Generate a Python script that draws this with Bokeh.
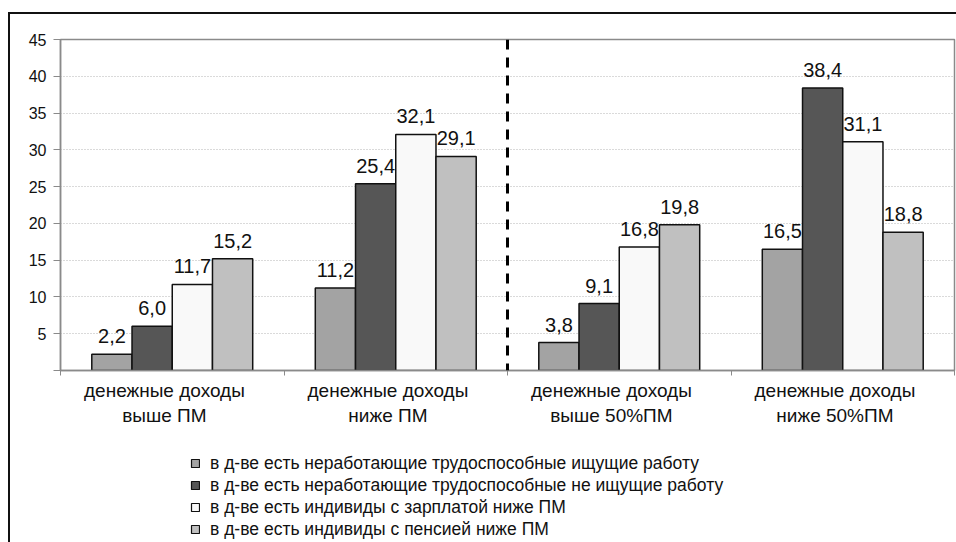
from bokeh.plotting import figure
from bokeh.layouts import column
from bokeh.models import ColumnDataSource, FixedTicker, Span, Legend, LegendItem
from bokeh.core.properties import value
from bokeh.embed import file_html
from bokeh.resources import INLINE

# Income groups (x axis categories)
categories = [
    "денежные доходы\nвыше ПМ",
    "денежные доходы\nниже ПМ",
    "денежные доходы\nвыше 50%ПМ",
    "денежные доходы\nниже 50%ПМ",
]

# Household types (series)
series_names = [
    "в д-ве есть неработающие трудоспособные ищущие работу",
    "в д-ве есть неработающие трудоспособные не ищущие работу",
    "в д-ве есть индивиды с зарплатой ниже ПМ",
    "в д-ве есть индивиды с пенсией ниже ПМ",
]

seeking_work = [2.2, 11.2, 3.8, 16.5]
not_seeking_work = [6.0, 25.4, 9.1, 38.4]
wage_below_pm = [11.7, 32.1, 16.8, 31.1]
pension_below_pm = [15.2, 29.1, 19.8, 18.8]

series_values = [seeking_work, not_seeking_work, wage_below_pm, pension_below_pm]
series_colors = ["#A3A3A3", "#565656", "#F9F9F9", "#C0C0C0"]

y_ticks = [0, 5, 10, 15, 20, 25, 30, 35, 40, 45]

FONT = "Liberation Sans"
BAR_W = 0.18
offsets = [-1.5 * BAR_W, -0.5 * BAR_W, 0.5 * BAR_W, 1.5 * BAR_W]
centers = [i + 0.5 for i in range(len(categories))]
# category captions sit slightly left of the group centre
label_pos = [c - 0.035 for c in centers]

p = figure(width=946, height=426, x_range=(0, 4), y_range=(0, 45),
           output_backend="svg", toolbar_location=None,
           min_border_left=50, min_border_right=2, min_border_top=25,
           min_border_bottom=70)

p.background_fill_color = "white"
p.border_fill_color = "white"
p.outline_line_color = "#8a8a8a"
p.outline_line_width = 1.5

# grid
p.xgrid.grid_line_color = None
p.ygrid.grid_line_color = "#b5b5b5"
p.ygrid.grid_line_dash = "1 2"
p.ygrid.grid_line_width = 1

# y axis
p.yaxis.ticker = FixedTicker(ticks=y_ticks)
p.yaxis.major_label_overrides = {0: ""}
p.yaxis.axis_line_color = "#8a8a8a"
p.yaxis.axis_line_width = 1.5
p.yaxis.major_tick_line_color = "#8a8a8a"
p.yaxis.major_tick_out = 7
p.yaxis.major_tick_in = 0
p.yaxis.minor_tick_line_color = None
p.yaxis.major_label_text_font = FONT
p.yaxis.major_label_text_font_size = "16px"
p.yaxis.major_label_text_color = "#111111"
p.yaxis.major_label_standoff = 7

# x axis: captions under each group, small ticks at group boundaries
p.xaxis.ticker = FixedTicker(ticks=label_pos, minor_ticks=[0, 1, 2, 3, 4])
p.xaxis.major_label_overrides = {c: lab for c, lab in zip(label_pos, categories)}
p.xaxis.axis_line_color = "#8a8a8a"
p.xaxis.axis_line_width = 1.5
p.xaxis.major_tick_line_color = None
p.xaxis.minor_tick_line_color = "#8a8a8a"
p.xaxis.minor_tick_out = 5
p.xaxis.minor_tick_in = 0
p.xaxis.major_label_text_font = FONT
p.xaxis.major_label_text_font_size = "19px"
p.xaxis.major_label_text_color = "#111111"
p.xaxis.major_label_text_line_height = 1.2
p.xaxis.major_label_standoff = 3

# value labels first, so neighbouring bars may cover them
for vals, off in zip(series_values, offsets):
    src = ColumnDataSource(dict(
        x=[c + off for c in centers],
        y=vals,
        t=[f"{v:.1f}".replace(".", ",") for v in vals],
    ))
    p.text(x="x", y="y", text="t", source=src, text_align="center",
           text_baseline="bottom", y_offset=-11, text_font=value(FONT),
           text_font_size="20px", text_color="#111111")

for vals, off, col in zip(series_values, offsets, series_colors):
    src = ColumnDataSource(dict(x=[c + off for c in centers], top=vals))
    p.vbar(x="x", top="top", width=BAR_W, bottom=0, source=src,
           fill_color=col, line_color="#111111", line_width=1.5)

# divider between the two pairs of groups
p.add_layout(Span(location=2, dimension="height", line_color="black",
                  line_width=3, line_dash="10 8"))

# legend strip under the chart; its swatch renderers sit outside the view
leg = figure(width=946, height=102, x_range=(0, 1), y_range=(0, 1),
             output_backend="svg", toolbar_location=None,
             x_axis_location=None, y_axis_location=None,
             min_border_left=0, min_border_right=0, min_border_top=0,
             min_border_bottom=0)
leg.outline_line_color = None
leg.grid.grid_line_color = None
leg.background_fill_color = "white"
leg.border_fill_color = "white"

swatches = []
for col in series_colors:
    swatches.append(leg.rect(x=[-5], y=[-5], width=0.1, height=0.1,
                             fill_color=col, line_color="#111111",
                             line_width=1.2))

legend = Legend(items=[LegendItem(label=n, renderers=[r])
                       for n, r in zip(series_names, swatches)],
                location=(130, 2), orientation="vertical",
                padding=0, margin=0, spacing=0, label_height=22,
                glyph_width=10, glyph_height=10, label_standoff=10,
                label_text_font=FONT, label_text_font_size="17.5px",
                label_text_color="#111111",
                border_line_color=None, background_fill_alpha=0)
leg.add_layout(legend, "center")

page = column(p, leg, spacing=0)
# outer chart frame (top and left edges fall inside the window)
page.margin = (12, 0, 0, 8)
page.styles = {"border-top": "2px solid #111111", "border-left": "2px solid #111111"}

open("out.html", "w").write(file_html(page, INLINE))
